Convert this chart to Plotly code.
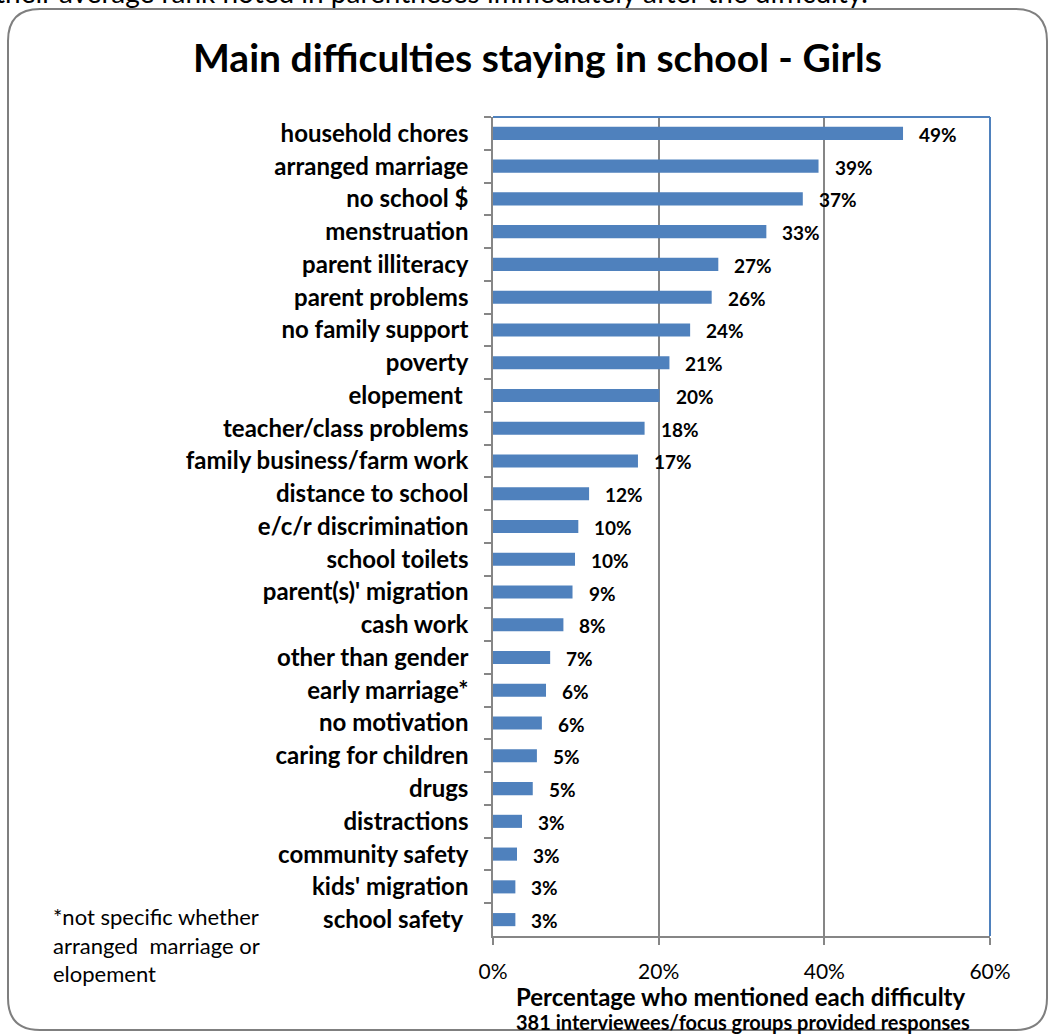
import plotly.graph_objects as go

categories = ["household chores", "arranged marriage", "no school $", "menstruation",
              "parent illiteracy", "parent problems", "no family support", "poverty",
              "elopement\u00a0", "teacher/class problems", "family business/farm work",
              "distance to school", "e/c/r discrimination", "school toilets",
              "parent(s)' migration", "cash work", "other than gender", "early marriage*",
              "no motivation", "caring for children", "drugs", "distractions",
              "community safety", "kids' migration", "school safety\u00a0"]
values = [49.5, 39.3, 37.4, 33.0, 27.2, 26.4, 23.8, 21.3, 20.1, 18.3, 17.5, 11.6, 10.3,
          9.9, 9.6, 8.5, 6.9, 6.4, 5.9, 5.3, 4.8, 3.5, 2.9, 2.7, 2.7]
value_labels = ["49%", "39%", "37%", "33%", "27%", "26%", "24%", "21%", "20%", "18%",
                "17%", "12%", "10%", "10%", "9%", "8%", "7%", "6%", "6%", "5%", "5%",
                "3%", "3%", "3%", "3%"]
x_ticks = [0, 20, 40, 60]
x_tick_labels = ["0%", "20%", "40%", "60%"]

W, H = 1050, 1034
L, R, T, B = 493, 990, 117, 936
FONT = "Lato"
GRID = "#868686"
BLUE = "#4F81BD"


def xp(px):
    return (px - L) / (R - L)


def yp(py):
    return (B - py) / (B - T)


fig = go.Figure()
fig.add_trace(go.Bar(
    y=categories, x=values, orientation="h",
    marker=dict(color=BLUE, line=dict(width=0)),
    hoverinfo="skip",
))

annotations = []
for c, v, lab in zip(categories, values, value_labels):
    annotations.append(dict(x=v, y=c, xref="x", yref="y", text=lab, showarrow=False,
                            xanchor="left", yanchor="middle", xshift=14, yshift=-1,
                            font=dict(family=FONT, size=19, color="black", weight="bold")))

# title
annotations.append(dict(x=xp(537), y=yp(57), xref="paper", yref="paper",
                        text="Main difficulties staying in school - Girls", showarrow=False,
                        xanchor="center", yanchor="middle",
                        font=dict(family=FONT, size=39, color="black", weight="bold")))
# axis titles
annotations.append(dict(x=xp(741), y=yp(996), xref="paper", yref="paper",
                        text="Percentage who mentioned each difficulty", showarrow=False,
                        xanchor="center", yanchor="middle",
                        font=dict(family=FONT, size=24, color="black", weight="bold")))
annotations.append(dict(x=xp(743), y=yp(1022), xref="paper", yref="paper",
                        text="381 interviewees/focus groups provided responses", showarrow=False,
                        xanchor="center", yanchor="middle",
                        font=dict(family=FONT, size=20, color="black", weight="bold")))
# footnote
annotations.append(dict(x=xp(51), y=yp(901), xref="paper", yref="paper",
                        text="*not specific whether<br>arranged  marriage or<br>elopement",
                        showarrow=False, xanchor="left", yanchor="top", align="left",
                        font=dict(family=FONT, size=22, color="black")))
# cut-off text at top (partly outside the page, as in the source)
annotations.append(dict(x=xp(870), y=yp(11), xref="paper", yref="paper",
                        text="their average rank noted in parentheses immediately after the difficulty.",
                        showarrow=False, xanchor="right", yanchor="bottom",
                        font=dict(family=FONT, size=28, color="black")))

# rounded border
x0, x1, y0, y1, r = 8, 1047, 9, 1030, 32
path = (f"M {xp(x0+r)} {yp(y0)} L {xp(x1-r)} {yp(y0)} Q {xp(x1)} {yp(y0)} {xp(x1)} {yp(y0+r)} "
        f"L {xp(x1)} {yp(y1-r)} Q {xp(x1)} {yp(y1)} {xp(x1-r)} {yp(y1)} "
        f"L {xp(x0+r)} {yp(y1)} Q {xp(x0)} {yp(y1)} {xp(x0)} {yp(y1-r)} "
        f"L {xp(x0)} {yp(y0+r)} Q {xp(x0)} {yp(y0)} {xp(x0+r)} {yp(y0)} Z")
shapes = [
    dict(type="path", xref="paper", yref="paper", path=path,
         line=dict(color="#7F7F7F", width=2), layer="below"),
    dict(type="line", xref="paper", yref="paper", x0=0, x1=1, y0=1, y1=1,
         line=dict(color=BLUE, width=2)),
    dict(type="line", xref="paper", yref="paper", x0=1, x1=1, y0=0, y1=1,
         line=dict(color=BLUE, width=2)),
]

fig.update_layout(
    width=W, height=H,
    margin=dict(l=L, r=W - R, t=T, b=H - B, pad=0),
    paper_bgcolor="white", plot_bgcolor="white",
    showlegend=False, bargap=0.6,
    annotations=annotations, shapes=shapes,
    font=dict(family=FONT, color="black"),
    xaxis=dict(range=[0, 60], tickmode="array", tickvals=x_ticks, ticktext=x_tick_labels,
               showgrid=True, gridcolor=GRID, gridwidth=1.5,
               showline=True, linecolor=GRID, linewidth=1.5,
               ticks="outside", ticklen=7, tickcolor=GRID, tickwidth=1.5,
               tickfont=dict(family=FONT, size=21, color="black"),
               ticklabelstandoff=9,
               zeroline=False, fixedrange=True),
    yaxis=dict(autorange="reversed", showline=True, linecolor=GRID, linewidth=1.5,
               ticks="outside", ticklen=7, tickcolor=GRID, tickwidth=1.5,
               tickson="boundaries", showgrid=False,
               tickfont=dict(family=FONT, size=24, color="black", weight="bold"),
               ticklabelstandoff=18, fixedrange=True),
)

fig.write_html("out.html")
